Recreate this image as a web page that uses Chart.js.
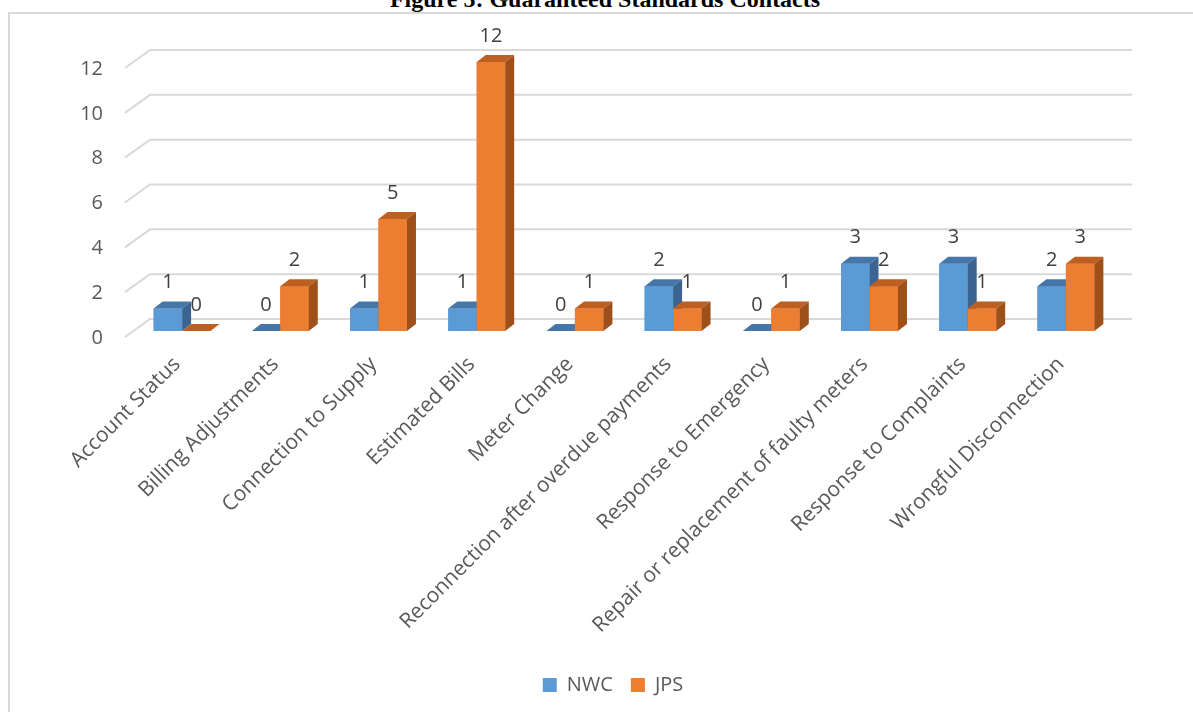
<!DOCTYPE html>
<html>
<head>
<meta charset="utf-8">
<script src="https://cdn.jsdelivr.net/npm/chart.js@4.4.1/dist/chart.umd.min.js"></script>
<style>
  html, body { margin: 0; padding: 0; background: #fff; overflow: hidden; }
  #wrap { position: relative; width: 1193px; height: 712px; overflow: hidden; }
  #title {
    position: absolute; left: 0; top: -13px; width: 1210px;
    text-align: center; color: #000;
    font: bold 24px "Liberation Serif", "Times New Roman", serif; line-height: 24px;
  }
  #frame { position: absolute; left: 8px; top: 12px; width: 1300px; height: 1000px; border: 2px solid #d9d9d9; }
  #chart { position: absolute; left: 0; top: 0; }
</style>
</head>
<body>
<div id="wrap">
  <div id="title">Figure 5: Guaranteed Standards Contacts</div>
  <div id="frame"></div>
  <canvas id="chart" width="1193" height="712"></canvas>
</div>
<script>
const categories = [
  "Account Status",
  "Billing Adjustments",
  "Connection to Supply",
  "Estimated Bills",
  "Meter Change",
  "Reconnection after overdue payments",
  "Response to Emergency",
  "Repair or replacement of faulty meters",
  "Response to Complaints",
  "Wrongful Disconnection"
];
const nwcValues = [1, 0, 1, 1, 0, 2, 0, 3, 3, 2];
const jpsValues = [0, 2, 5, 12, 1, 1, 1, 2, 1, 3];
const yTicks = [0, 2, 4, 6, 8, 10, 12];

// fake 3D: offsets in px from the plane where the bar fronts sit
const DEPTH_X = 9, DEPTH_Y = 7;   // depth of a bar
const WALL_X = 17, WALL_Y = 12;   // back wall with gridlines
const FRONT_X = 8, FRONT_Y = 6;   // front edge of the floor

const FONT = '"Open Sans", "DejaVu Sans", sans-serif';

const grid3d = {
  id: 'grid3d',
  beforeDatasetsDraw(chart) {
    const { ctx, chartArea, scales: { y } } = chart;
    ctx.save();
    ctx.strokeStyle = '#d9d9d9';
    ctx.lineWidth = 2;
    ctx.font = '20px ' + FONT;
    ctx.fillStyle = '#595959';
    ctx.textAlign = 'right';
    ctx.textBaseline = 'middle';
    y.ticks.forEach(t => {
      const py = y.getPixelForValue(t.value);
      ctx.beginPath();
      ctx.moveTo(chartArea.left - FRONT_X, py + FRONT_Y);
      ctx.lineTo(chartArea.left + WALL_X, py - WALL_Y);
      ctx.lineTo(chartArea.right + WALL_X, py - WALL_Y);
      ctx.stroke();
      ctx.fillText(String(t.value), chartArea.left - 30, py + 7);
    });
    ctx.restore();
  }
};

const bars3d = {
  id: 'bars3d',
  afterDatasetsDraw(chart) {
    const { ctx } = chart;
    const metas = chart.data.datasets.map((d, i) => chart.getDatasetMeta(i));
    ctx.save();
    // redraw per category so the right bar covers the side of the left one
    categories.forEach((c, j) => {
      metas.forEach((meta, i) => {
        const ds = chart.data.datasets[i];
        const bar = meta.data[j];
        const { x, y, base, width } = bar.getProps(['x', 'y', 'base', 'width'], true);
        const l = x - width / 2, r = x + width / 2;
        bar.draw(ctx);
        ctx.fillStyle = ds.topColor;
        ctx.beginPath();
        ctx.moveTo(l, y);
        ctx.lineTo(l + DEPTH_X, y - DEPTH_Y);
        ctx.lineTo(r + DEPTH_X, y - DEPTH_Y);
        ctx.lineTo(r, y);
        ctx.closePath();
        ctx.fill();
        if (base - y > 0.5) {
          ctx.fillStyle = ds.sideColor;
          ctx.beginPath();
          ctx.moveTo(r, y);
          ctx.lineTo(r + DEPTH_X, y - DEPTH_Y);
          ctx.lineTo(r + DEPTH_X, base - DEPTH_Y);
          ctx.lineTo(r, base);
          ctx.closePath();
          ctx.fill();
        }
      });
    });
    // value labels
    ctx.font = '20px ' + FONT;
    ctx.fillStyle = '#404040';
    ctx.textAlign = 'center';
    ctx.textBaseline = 'middle';
    metas.forEach((meta, i) => {
      const vals = chart.data.datasets[i].data;
      meta.data.forEach((bar, j) => {
        ctx.fillText(String(vals[j]), bar.x, bar.y - DEPTH_Y - 19);
      });
    });
    ctx.restore();
  }
};

// legend sits a bit left of the plot centre in the original
const legendShift = {
  id: 'legendShift',
  afterLayout(chart) {
    chart.legend.left -= 11;
    chart.legend.right -= 11;
  }
};

new Chart(document.getElementById('chart'), {
  type: 'bar',
  data: {
    labels: categories,
    datasets: [
      {
        label: 'NWC', data: nwcValues,
        backgroundColor: '#5b9bd5', topColor: '#4676a8', sideColor: '#3b6590',
        borderWidth: 0, barPercentage: 1, categoryPercentage: 0.58
      },
      {
        label: 'JPS', data: jpsValues,
        backgroundColor: '#ed7d31', topColor: '#bd5f20', sideColor: '#9e501b',
        borderWidth: 0, barPercentage: 1, categoryPercentage: 0.58
      }
    ]
  },
  options: {
    responsive: false,
    animation: false,
    layout: { padding: { left: 133, right: 78, top: 62, bottom: 7 } },
    scales: {
      x: {
        grid: { display: false, drawTicks: false },
        border: { display: false },
        ticks: {
          autoSkip: false, minRotation: 45, maxRotation: 45, padding: 21, labelOffset: -5,
          color: '#595959', font: { family: FONT, size: 21 }
        },
        afterFit(scale) { scale.height = 326; }
      },
      y: {
        display: false,
        min: 0, max: 12,
        afterBuildTicks(scale) { scale.ticks = yTicks.map(v => ({ value: v })); }
      }
    },
    plugins: {
      legend: {
        position: 'bottom',
        labels: {
          boxWidth: 14, boxHeight: 14, padding: 18,
          color: '#595959', font: { family: FONT, size: 20 }
        }
      },
      tooltip: { enabled: false }
    }
  },
  plugins: [grid3d, bars3d, legendShift]
});
</script>
</body>
</html>
